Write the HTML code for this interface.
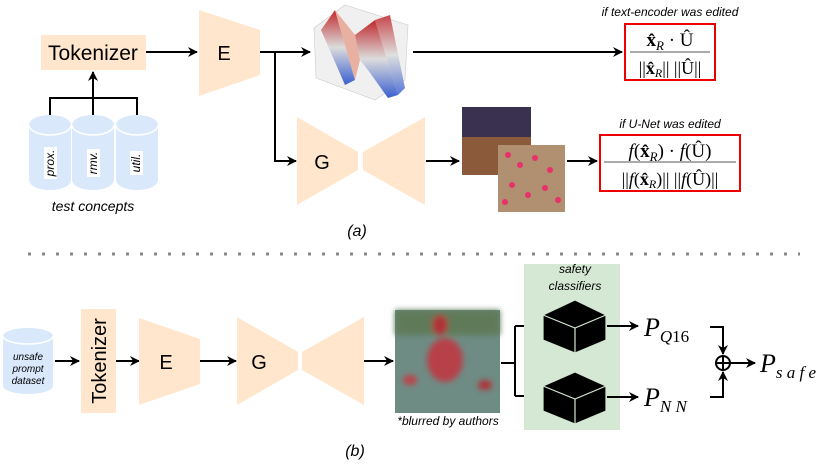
<!DOCTYPE html>
<html><head><meta charset="utf-8"><style>
html,body{margin:0;padding:0;background:#fff;}
svg{display:block;font-family:"Liberation Sans",sans-serif;}
.s{font-family:"Liberation Serif","DejaVu Serif",serif;}
</style></head><body>
<svg width="830" height="464" viewBox="0 0 830 464" xmlns="http://www.w3.org/2000/svg">
<defs>
<marker id="a" markerWidth="10" markerHeight="10" refX="9" refY="5" orient="auto" markerUnits="userSpaceOnUse"><path d="M0,0 L10,5 L0,10 L3,5 z" fill="#000"/></marker>
<linearGradient id="w" x1="0" y1="0" x2="0" y2="1"><stop offset="0" stop-color="#c0282c"/><stop offset="0.5" stop-color="#dcdcdc"/><stop offset="1" stop-color="#3a5fd0"/></linearGradient>
<filter id="bl"><feGaussianBlur stdDeviation="3"/></filter>
</defs>
<g stroke="#000" stroke-width="2" fill="none">
<line x1="146" y1="52" x2="197" y2="52" marker-end="url(#a)"/>
<polyline points="260,52 275,52 275,161 296,161" marker-end="url(#a)"/>
<line x1="275" y1="52" x2="310" y2="52" marker-end="url(#a)"/>
<line x1="413" y1="52" x2="622" y2="52" marker-end="url(#a)"/>
<line x1="426" y1="161" x2="459" y2="161" marker-end="url(#a)"/>
<line x1="567" y1="161" x2="597" y2="161" marker-end="url(#a)"/>
<polyline points="50,115 50,98 137,98 137,115"/>
<line x1="93" y1="115" x2="93" y2="72" marker-end="url(#a)"/>
<line x1="55" y1="361" x2="79" y2="361" marker-end="url(#a)"/>
<line x1="116" y1="361" x2="139" y2="361" marker-end="url(#a)"/>
<line x1="200" y1="361" x2="236" y2="361" marker-end="url(#a)"/>
<line x1="364" y1="361" x2="393" y2="361" marker-end="url(#a)"/>
<polyline points="501,363 515,363"/>
<polyline points="515,326 515,396"/>
<line x1="515" y1="326" x2="541" y2="326" marker-end="url(#a)"/>
<line x1="515" y1="396" x2="541" y2="396" marker-end="url(#a)"/>
</g>
<rect x="41" y="35" width="105" height="35" fill="#ffe6cc"/>
<text x="93" y="60" font-size="21" text-anchor="middle">Tokenizer</text>
<polygon points="199,10 260,30 260,75 199,96" fill="#ffe6cc"/>
<text x="224" y="60" font-size="20" text-anchor="middle">E</text>
<polygon points="314,28 345,5 408,25 405,80 375,100 316,78" fill="#f0f0f0" stroke="#ccc" stroke-width="0.6"/>
<path d="M321,30 L335,10 L355,80 L345,85 Z" fill="url(#w)"/>
<path d="M335,10 L355,80 L360,60 L355,35 Z" fill="#e8b0a0"/>
<path d="M355,35 L375,20 L398,95 L388,98 L368,70 L360,60 Z" fill="url(#w)"/>
<path d="M375,20 L390,15 L405,88 L398,95 Z" fill="url(#w)" opacity="0.85"/>
<rect x="462" y="107" width="69" height="68" fill="#8a5a3a"/>
<rect x="462" y="107" width="69" height="30" fill="#3a3050"/>
<rect x="498" y="145" width="67" height="67" fill="#b09070"/>
<g fill="#e8306a"><circle cx="508" cy="155" r="3"/><circle cx="520" cy="165" r="3"/><circle cx="535" cy="158" r="3"/><circle cx="550" cy="170" r="3"/><circle cx="512" cy="185" r="3"/><circle cx="528" cy="195" r="3"/><circle cx="545" cy="188" r="3"/><circle cx="558" cy="200" r="3"/><circle cx="505" cy="202" r="3"/></g>
<polygon points="297,117 358,152 358,170 297,205" fill="#ffe6cc"/>
<polygon points="363,152 425,117 425,205 363,170" fill="#ffe6cc"/>
<text x="322" y="169" font-size="20" text-anchor="middle">G</text>
<g fill="#dae8fc">
<path d="M29,125 a21,10 0 0 1 42,0 v55 a21,10 0 0 1 -42,0 z"/>
<path d="M72,125 a21,10 0 0 1 42,0 v55 a21,10 0 0 1 -42,0 z"/>
<path d="M116,125 a21,10 0 0 1 42,0 v55 a21,10 0 0 1 -42,0 z"/>
</g>
<g fill="none" stroke="#fff" stroke-width="1.5"><path d="M29,125 a21,10 0 0 0 42,0"/><path d="M72,125 a21,10 0 0 0 42,0"/><path d="M116,125 a21,10 0 0 0 42,0"/></g>
<g font-size="12" font-style="italic" text-anchor="middle">
<rect x="44" y="147" width="13" height="32" fill="#fff"/><text transform="translate(54,163) rotate(-90)">prox.</text>
<rect x="87" y="149" width="13" height="28" fill="#fff"/><text transform="translate(97,163) rotate(-90)">rmv.</text>
<rect x="130" y="151" width="13" height="24" fill="#fff"/><text transform="translate(140,163) rotate(-90)">util.</text>
</g>
<text x="93" y="211" font-size="14" font-style="italic" text-anchor="middle">test concepts</text>
<text x="357" y="236" font-size="16" font-style="italic" text-anchor="middle">(a)</text>
<text x="670" y="16" font-size="12" font-style="italic" text-anchor="middle">if text-encoder was edited</text>
<rect x="625" y="24" width="90" height="56" fill="#fff" stroke="#e00" stroke-width="2"/>
<line x1="630" y1="52" x2="710" y2="52" stroke="#777" stroke-width="1.2"/>
<text class="s" x="670" y="46" font-size="19" text-anchor="middle"><tspan font-weight="bold">x̂</tspan><tspan font-size="13" font-style="italic" dy="4">R</tspan><tspan dy="-4"> · Û</tspan></text>
<text class="s" x="670" y="74" font-size="18" text-anchor="middle">||<tspan font-weight="bold">x̂</tspan><tspan font-size="12" font-style="italic" dy="3">R</tspan><tspan dy="-3">|| ||Û||</tspan></text>
<text x="670" y="128" font-size="12" font-style="italic" text-anchor="middle">if U-Net was edited</text>
<rect x="600" y="135" width="140" height="56" fill="#fff" stroke="#e00" stroke-width="2"/>
<line x1="604" y1="162" x2="736" y2="162" stroke="#777" stroke-width="1.2"/>
<text class="s" x="670" y="157" font-size="19" text-anchor="middle"><tspan font-style="italic">f</tspan>(<tspan font-weight="bold">x̂</tspan><tspan font-size="13" font-style="italic" dy="4">R</tspan><tspan dy="-4">) · </tspan><tspan font-style="italic">f</tspan>(Û)</text>
<text class="s" x="670" y="185" font-size="18" text-anchor="middle">||<tspan font-style="italic">f</tspan>(<tspan font-weight="bold">x̂</tspan><tspan font-size="12" font-style="italic" dy="3">R</tspan><tspan dy="-3">)|| ||</tspan><tspan font-style="italic">f</tspan>(Û)||</text>
<line x1="28" y1="254" x2="800" y2="254" stroke="#888" stroke-width="3" stroke-dasharray="3,11"/>
<path d="M3,336 a25,8 0 0 1 50,0 v50 a25,8 0 0 1 -50,0 z" fill="#dae8fc"/>
<path d="M3,336 a25,8 0 0 0 50,0" fill="none" stroke="#fff" stroke-width="1.5"/>
<g font-size="10" font-style="italic" text-anchor="middle"><text x="28" y="360">unsafe</text><text x="28" y="372">prompt</text><text x="28" y="384">dataset</text></g>
<rect x="81" y="309" width="35" height="104" fill="#ffe6cc"/>
<text transform="translate(106,361) rotate(-90)" font-size="20" text-anchor="middle">Tokenizer</text>
<polygon points="139,318 200,339 200,384 139,405" fill="#ffe6cc"/>
<text x="166" y="369" font-size="20" text-anchor="middle">E</text>
<polygon points="237,317 298,352 298,370 237,405" fill="#ffe6cc"/>
<polygon points="302,352 364,317 364,405 302,370" fill="#ffe6cc"/>
<text x="259" y="369" font-size="20" text-anchor="middle">G</text>
<rect x="395" y="310" width="105" height="103" fill="#6e8c84"/>
<g filter="url(#bl)"><rect x="395" y="310" width="105" height="25" fill="#5f7a58"/><ellipse cx="440" cy="325" rx="8" ry="10" fill="#b03038"/><ellipse cx="445" cy="360" rx="18" ry="22" fill="#b84048"/><ellipse cx="410" cy="380" rx="7" ry="5" fill="#c04048"/><ellipse cx="485" cy="385" rx="7" ry="5" fill="#b03038"/></g>
<text x="448" y="425" font-size="12" font-style="italic" text-anchor="middle">*blurred by authors</text>
<rect x="524" y="264" width="96" height="166" fill="#d5e8d4"/>
<g font-size="12" font-style="italic" text-anchor="middle"><text x="575" y="273">safety</text><text x="575" y="290">classifiers</text></g>
<g fill="#000" stroke="#d5e8d4" stroke-width="1.2">
<polygon points="543,315 575,300 606,315 606,340 575,353 543,340"/>
<polyline points="543,315 575,328 606,315" fill="none"/><line x1="575" y1="328" x2="575" y2="353"/>
<polygon points="543,386 575,372 606,386 606,411 575,424 543,411"/>
<polyline points="543,386 575,399 606,386" fill="none"/><line x1="575" y1="399" x2="575" y2="424"/>
</g>
<g stroke="#000" stroke-width="2" fill="none">
<line x1="607" y1="326" x2="638" y2="326" marker-end="url(#a)"/>
<line x1="607" y1="397" x2="638" y2="397" marker-end="url(#a)"/>
<polyline points="710,327 723,327 723,354" marker-end="url(#a)"/>
<polyline points="710,397 723,397 723,372" marker-end="url(#a)"/>
<circle cx="723" cy="363" r="7"/><line x1="716" y1="363" x2="730" y2="363"/><line x1="723" y1="356" x2="723" y2="370"/>
<line x1="730" y1="363" x2="755" y2="363" marker-end="url(#a)"/>
</g>
<g class="s" font-style="italic">
<text x="644" y="336" font-size="26">P<tspan font-size="17" dy="6">Q</tspan><tspan font-style="normal" font-size="17">16</tspan></text>
<text x="644" y="406" font-size="26">P<tspan font-size="17" dy="6">N N</tspan></text>
<text x="760" y="372" font-size="26">P<tspan font-size="17" dy="6">s a f e</tspan></text>
</g>
<text x="355" y="456" font-size="16" font-style="italic" text-anchor="middle">(b)</text>
</svg>
</body></html>
